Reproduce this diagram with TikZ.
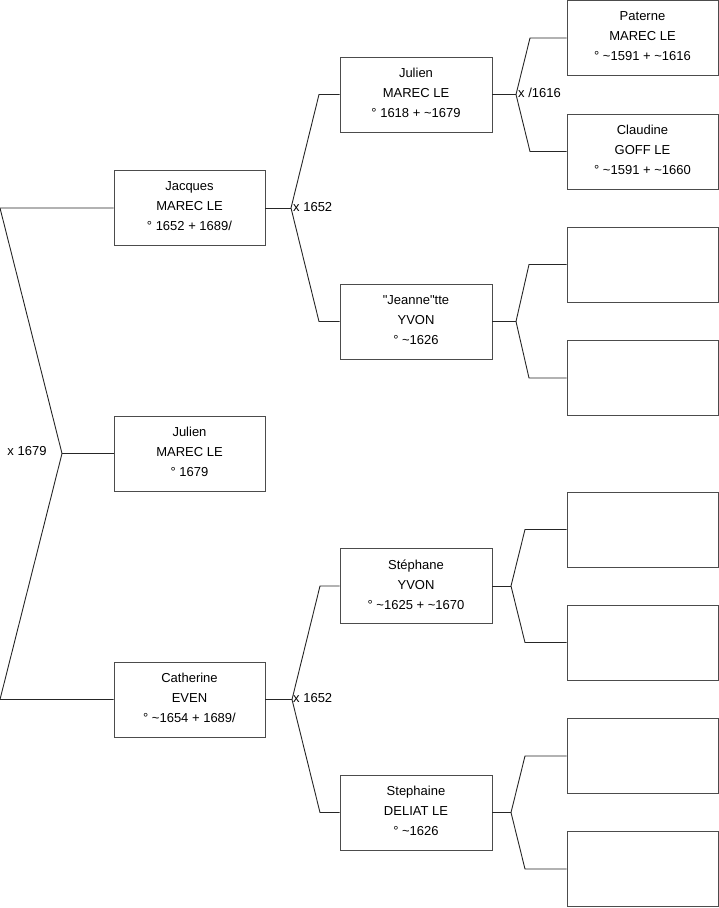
\documentclass[tikz,border=0pt]{standalone}
\usepackage{fontspec}
\setmainfont{Liberation Sans}
\newcommand\straightdq{\XeTeXglyph\XeTeXcharglyph"22\relax}
\begin{document}
\begin{tikzpicture}[x=1pt,y=-1pt,
  person/.style={draw=black!70,line width=0.9pt,minimum width=151pt,minimum height=75pt,
    align=center,inner sep=0pt,font=\fontsize{13}{20}\selectfont,
    execute at end node={\rule[-3.5pt]{0pt}{0pt}}},
  conn/.style={draw=black!85,line width=0.9pt},
  lbl/.style={font=\fontsize{13}{16}\selectfont,inner sep=0pt}]
\useasboundingbox (0,0) rectangle (719,908);
% generation 1
\node[person] (jacques) at (189.5,208) {Jacques\\MAREC LE\\° 1652 + 1689/};
\node[person] (julien) at (189.5,453.5) {Julien\\MAREC LE\\° 1679};
\node[person] (catherine) at (189.5,699.5) {Catherine\\EVEN\\° \textasciitilde1654 + 1689/};
% generation 2
\node[person,minimum width=152pt] (julien2) at (416,94.5) {Julien\\MAREC LE\\° 1618 + \textasciitilde1679};
\node[person,minimum width=152pt] (jeannette) at (416,321.5) {\straightdq Jeanne\straightdq tte\\YVON\\° \textasciitilde1626};
\node[person,minimum width=152pt] (stephane) at (416,586) {Stéphane\\YVON\\° \textasciitilde1625 + \textasciitilde1670};
\node[person,minimum width=152pt] (stephaine) at (416,812.5) {Stephaine\\DELIAT LE\\° \textasciitilde1626};
% generation 3
\node[person] (paterne) at (642.5,38) {Paterne\\MAREC LE\\° \textasciitilde1591 + \textasciitilde1616};
\node[person] (claudine) at (642.5,151.5) {Claudine\\GOFF LE\\° \textasciitilde1591 + \textasciitilde1660};
\node[person] (e1) at (642.5,264.5) {};
\node[person] (e2) at (642.5,378) {};
\node[person] (e3) at (642.5,529.5) {};
\node[person] (e4) at (642.5,642.5) {};
\node[person] (e5) at (642.5,756) {};
\node[person] (e6) at (642.5,869) {};
% fork coordinates
\coordinate (l1) at (0,208);
\coordinate (l2) at (0,699.5);
\coordinate (f0) at (62,453.5);
\coordinate (f1) at (291,208);
\coordinate (f1a) at (319,94.5);
\coordinate (f1b) at (319,321.5);
\coordinate (f2) at (292,699.5);
\coordinate (f2a) at (320,586);
\coordinate (f2b) at (320,812.5);
\coordinate (g1) at (516,94.5);
\coordinate (g1a) at (530,38);
\coordinate (g1b) at (530,151.5);
\coordinate (g2) at (516,321.5);
\coordinate (g2a) at (529,264.5);
\coordinate (g2b) at (529,378);
\coordinate (g3) at (511,586);
\coordinate (g3a) at (525,529.5);
\coordinate (g3b) at (525,642.5);
\coordinate (g4) at (511,812.5);
\coordinate (g4a) at (525,756);
\coordinate (g4b) at (525,869);
% connectors
\draw[conn] (jacques.west) -- (l1) -- (f0) -- (l2) -- (catherine.west);
\draw[conn] (f0) -- (julien.west);
\draw[conn] (jacques.east) -- (f1);
\draw[conn] (julien2.west) -- (f1a) -- (f1) -- (f1b) -- (jeannette.west);
\draw[conn] (catherine.east) -- (f2);
\draw[conn] (stephane.west) -- (f2a) -- (f2) -- (f2b) -- (stephaine.west);
\draw[conn] (julien2.east) -- (g1);
\draw[conn] (paterne.west) -- (g1a) -- (g1) -- (g1b) -- (claudine.west);
\draw[conn] (jeannette.east) -- (g2);
\draw[conn] (e1.west) -- (g2a) -- (g2) -- (g2b) -- (e2.west);
\draw[conn] (stephane.east) -- (g3);
\draw[conn] (e3.west) -- (g3a) -- (g3) -- (g3b) -- (e4.west);
\draw[conn] (stephaine.east) -- (g4);
\draw[conn] (e5.west) -- (g4a) -- (g4) -- (g4b) -- (e6.west);
% labels
\node[lbl,anchor=west] (m1) at (293,207.5) {x 1652};
\node[lbl,anchor=west] (m2) at (293,698) {x 1652};
\node[lbl,anchor=west] (m3) at (518,93) {x /1616};
\node[lbl] (m0) at (27,451) {x 1679};
\end{tikzpicture}
\end{document}
